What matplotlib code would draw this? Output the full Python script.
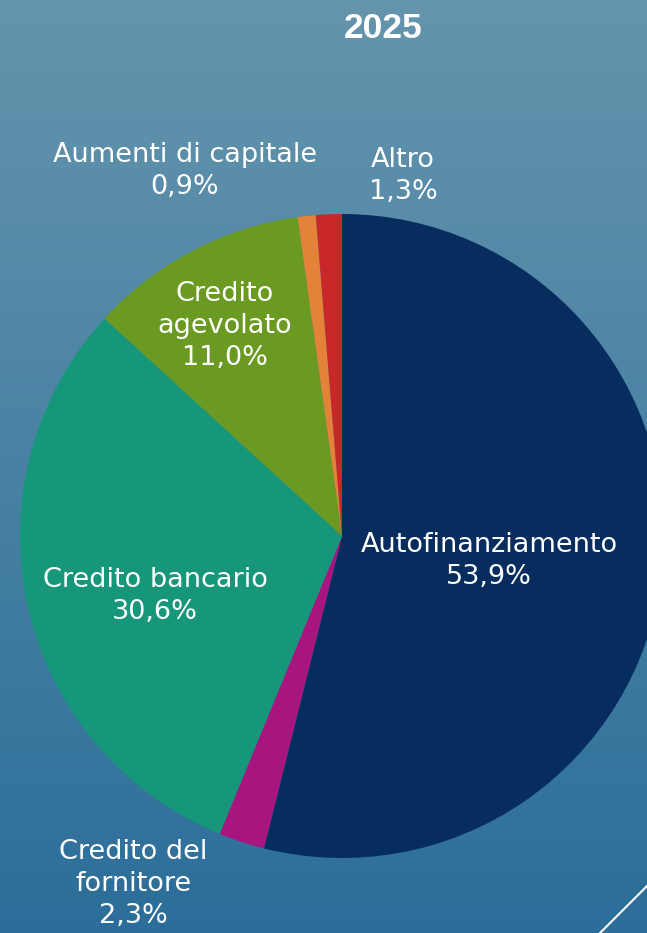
import numpy as np
import matplotlib.pyplot as plt
from matplotlib.colors import LinearSegmentedColormap

# dati 2025
categorie = ['Autofinanziamento', 'Credito del\nfornitore', 'Credito bancario',
             'Credito\nagevolato', 'Aumenti di capitale', 'Altro']
quote = [53.9, 2.3, 30.6, 11.0, 0.9, 1.3]
colori = ['#062D5E', '#A8157F', '#16977A', '#6A9A22', '#E5823A', '#C8282A']

# posizione etichette (pixel dall'alto)
pos_etichette = [(489, 561), (133, 884), (155, 596), (225, 326), (185, 171), (403, 176)]

W, H = 647, 933
fig = plt.figure(figsize=(W / 100, H / 100), dpi=100)
ax = fig.add_axes([0, 0, 1, 1])

# sfondo sfumato
sfondo = LinearSegmentedColormap.from_list('bg', ['#6595AD', '#2C6E9A'])
grad = np.linspace(0, 1, 256).reshape(-1, 1)
ax.imshow(grad, cmap=sfondo, extent=[0, W, 0, H], aspect='auto', zorder=0)

ax.pie(quote, colors=colori, startangle=90, counterclock=False,
       center=(342, H - 536), radius=322, frame=True,
       wedgeprops={'linewidth': 0, 'zorder': 2})
ax.set_xlim(0, W)
ax.set_ylim(0, H)
ax.set_aspect('auto')
ax.axis('off')

for cat, q, (x, y) in zip(categorie, quote, pos_etichette):
    testo = cat + '\n' + f'{q:.1f}%'.replace('.', ',')
    ax.text(x, H - y, testo, ha='center', va='center', color='white',
            fontsize=19.5, family='DejaVu Sans', linespacing=1.3, zorder=5)

ax.text(383, H - 28, '2025', ha='center', va='center', color='white',
        fontsize=25.5, fontweight='bold', family=['Liberation Sans', 'DejaVu Sans'], zorder=5)

# linea decorativa
ax.plot([600, 660], [0, 60], color='white', lw=1.5, zorder=5)

fig.savefig('out.png', dpi=100)
